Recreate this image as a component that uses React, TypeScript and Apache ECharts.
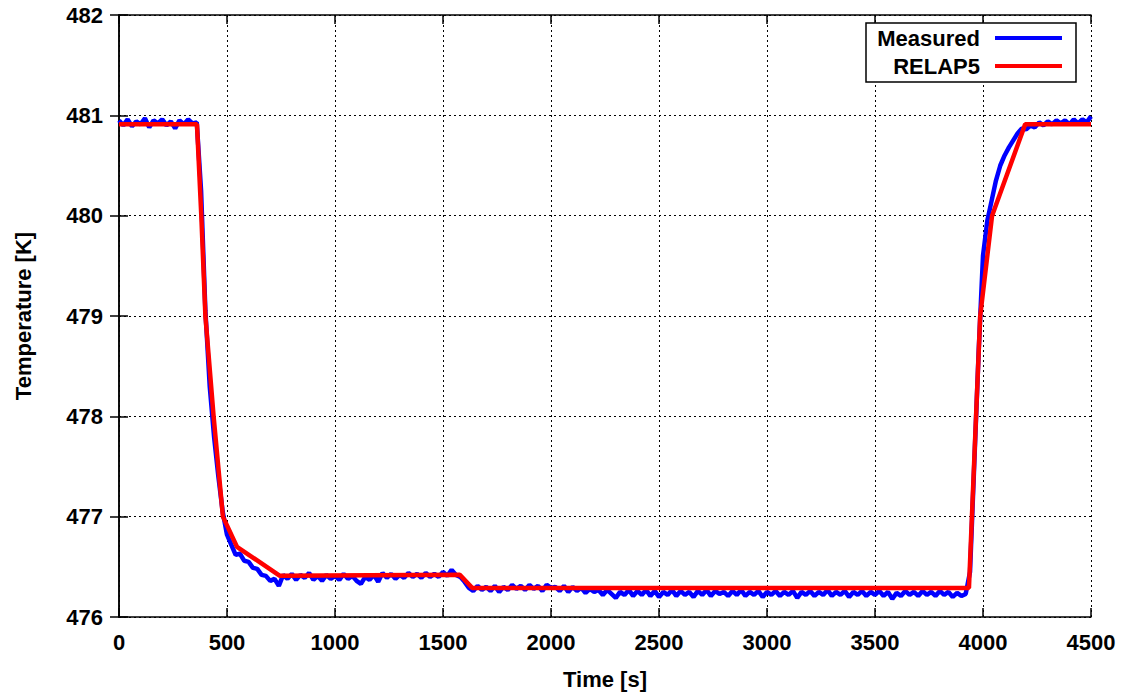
import React, { useEffect, useRef } from "react";
import * as echarts from "echarts";

// ---- data ----
const xTicks = [0, 500, 1000, 1500, 2000, 2500, 3000, 3500, 4000, 4500];
const yTicks = [476, 477, 478, 479, 480, 481, 482];

// Measured temperature, sampled every MEASURED_STEP seconds starting at t = 0
const MEASURED_STEP = 20;
const measuredTemps = [
  480.95, 480.90, 480.96, 480.89, 480.94, 480.91, 480.97, 480.88, 480.95, 480.92,
  480.96, 480.90, 480.94, 480.87, 480.95, 480.91, 480.96, 480.92, 480.93, 480.25,
  479.05, 478.30, 477.80, 477.40, 477.05, 476.82, 476.72, 476.62, 476.63, 476.56,
  476.55, 476.49, 476.48, 476.42, 476.41, 476.36, 476.38, 476.31, 476.42, 476.38,
  476.43, 476.37, 476.42, 476.39, 476.44, 476.37, 476.41, 476.36, 476.42, 476.38,
  476.41, 476.37, 476.43, 476.38, 476.41, 476.36, 476.33, 476.40, 476.37, 476.42,
  476.35, 476.44, 476.39, 476.43, 476.38, 476.42, 476.39, 476.44, 476.40, 476.43,
  476.39, 476.44, 476.40, 476.43, 476.40, 476.45, 476.41, 476.47, 476.42, 476.40,
  476.35, 476.29, 476.26, 476.31, 476.27, 476.30, 476.26, 476.31, 476.25, 476.30,
  476.27, 476.32, 476.28, 476.31, 476.27, 476.32, 476.28, 476.31, 476.26, 476.32,
  476.29, 476.30, 476.26, 476.31, 476.25, 476.30, 476.26, 476.29, 476.24, 476.28,
  476.25, 476.27, 476.22, 476.27, 476.23, 476.19, 476.25, 476.22, 476.27, 476.21,
  476.26, 476.22, 476.27, 476.21, 476.26, 476.20, 476.25, 476.22, 476.27, 476.21,
  476.26, 476.22, 476.25, 476.20, 476.26, 476.22, 476.27, 476.21, 476.26, 476.23,
  476.25, 476.21, 476.26, 476.22, 476.27, 476.21, 476.25, 476.22, 476.26, 476.20,
  476.25, 476.22, 476.26, 476.21, 476.25, 476.22, 476.26, 476.19, 476.25, 476.22,
  476.26, 476.21, 476.25, 476.22, 476.27, 476.21, 476.25, 476.22, 476.26, 476.20,
  476.25, 476.22, 476.26, 476.21, 476.25, 476.22, 476.26, 476.21, 476.25, 476.18,
  476.24, 476.21, 476.26, 476.22, 476.25, 476.21, 476.26, 476.22, 476.25, 476.21,
  476.26, 476.22, 476.25, 476.20, 476.24, 476.21, 476.23, 476.45, 477.55, 478.65,
  479.60, 479.95, 480.15, 480.35, 480.50, 480.60, 480.68, 480.75, 480.82, 480.87,
  480.86, 480.90, 480.88, 480.93, 480.90, 480.94, 480.91, 480.95, 480.92, 480.95,
  480.91, 480.96, 480.92, 480.96, 480.93, 480.99,
];

// RELAP5 calculation (breakpoints)
const relapTimes = [0, 361, 381, 400, 438, 481, 546, 745, 1578, 1635, 3935, 3987, 4042, 4195, 4500];
const relapTemps = [480.91, 480.91, 480.0, 479.0, 478.0, 477.0, 476.7, 476.41, 476.42, 476.29, 476.29, 479.0, 480.0, 480.91, 480.91];

const legendNames = ["Measured", "RELAP5"];
const seriesColors = ["#0000ff", "#ff0000"];

const FONT = "'Liberation Sans', Arial, Helvetica, sans-serif";

export default function App() {
  const ref = useRef<HTMLDivElement>(null);

  useEffect(() => {
    if (!ref.current) return;
    const chart = echarts.init(ref.current, undefined, { renderer: "svg" });

    const measuredData = measuredTemps.map((v, i) => [i * MEASURED_STEP, v]);
    const relapData = relapTimes.map((t, i) => [t, relapTemps[i]]);

    const labelStyle = {
      fontFamily: FONT,
      fontWeight: "bold" as const,
      fontSize: 22,
      color: "#000",
    };

    const baseAxisLine = { show: true, lineStyle: { color: "#000", width: 1.5 } };
    const tick = { show: true, inside: true, length: 9, lineStyle: { color: "#000", width: 1.5 } };
    const split = { show: true, lineStyle: { color: "#000", width: 1, type: [2, 3] as any } };

    const legendX = 866;
    const legendY = 23;
    const legendW = 210;
    const legendH = 59;

    const legendElements: any[] = [
      {
        type: "rect",
        z: 100,
        shape: { x: legendX, y: legendY, width: legendW, height: legendH },
        style: { fill: "#fff", stroke: "#000", lineWidth: 1.5 },
      },
    ];
    legendNames.forEach((n, i) => {
      const cy = legendY + 15 + i * 28;
      legendElements.push({
        type: "text",
        z: 101,
        left: undefined,
        x: legendX + 114,
        y: cy,
        style: {
          text: n,
          x: 0,
          y: 0,
          align: "right",
          verticalAlign: "middle",
          fontFamily: FONT,
          fontWeight: "bold",
          fontSize: 22,
          fill: "#000",
        },
      });
      legendElements.push({
        type: "line",
        z: 101,
        shape: { x1: legendX + 129, y1: cy, x2: legendX + 196, y2: cy },
        style: { stroke: seriesColors[i], lineWidth: 4 },
      });
    });

    chart.setOption({
      animation: false,
      backgroundColor: "#fff",
      grid: { left: 119, top: 15, right: 34, bottom: 74 },
      xAxis: [
        {
          type: "value",
          min: 0,
          max: 4500,
          interval: 500,
          position: "bottom",
          name: "Time [s]",
          nameLocation: "middle",
          nameGap: 51,
          nameTextStyle: { ...labelStyle },
          axisLine: baseAxisLine,
          axisTick: tick,
          splitLine: split,
          axisLabel: {
            ...labelStyle,
            margin: 14,
            formatter: (v: number) => (xTicks.includes(v) ? String(v) : ""),
          },
        },
        {
          type: "value",
          min: 0,
          max: 4500,
          interval: 500,
          position: "top",
          axisLine: baseAxisLine,
          axisTick: tick,
          splitLine: { show: false },
          axisLabel: { show: false },
        },
      ],
      yAxis: [
        {
          type: "value",
          min: 476,
          max: 482,
          interval: 1,
          position: "left",
          name: "Temperature [K]",
          nameLocation: "middle",
          nameGap: 85,
          nameRotate: 90,
          nameTextStyle: { ...labelStyle },
          axisLine: baseAxisLine,
          axisTick: tick,
          splitLine: split,
          axisLabel: {
            ...labelStyle,
            margin: 16,
            formatter: (v: number) => (yTicks.includes(v) ? String(v) : ""),
          },
        },
        {
          type: "value",
          min: 476,
          max: 482,
          interval: 1,
          position: "right",
          axisLine: baseAxisLine,
          axisTick: tick,
          splitLine: { show: false },
          axisLabel: { show: false },
        },
      ],
      series: [
        {
          name: legendNames[0],
          type: "line",
          data: measuredData,
          showSymbol: false,
          symbol: "none",
          lineStyle: { color: seriesColors[0], width: 4.5 },
          z: 3,
        },
        {
          name: legendNames[1],
          type: "line",
          data: relapData,
          showSymbol: false,
          symbol: "none",
          lineStyle: { color: seriesColors[1], width: 4.5 },
          z: 4,
        },
      ],
      graphic: { elements: legendElements },
    });

    return () => chart.dispose();
  }, []);

  return (
    <div
      ref={ref}
      style={{ position: "absolute", left: 0, top: 0, width: 1125, height: 695 }}
    />
  );
}
